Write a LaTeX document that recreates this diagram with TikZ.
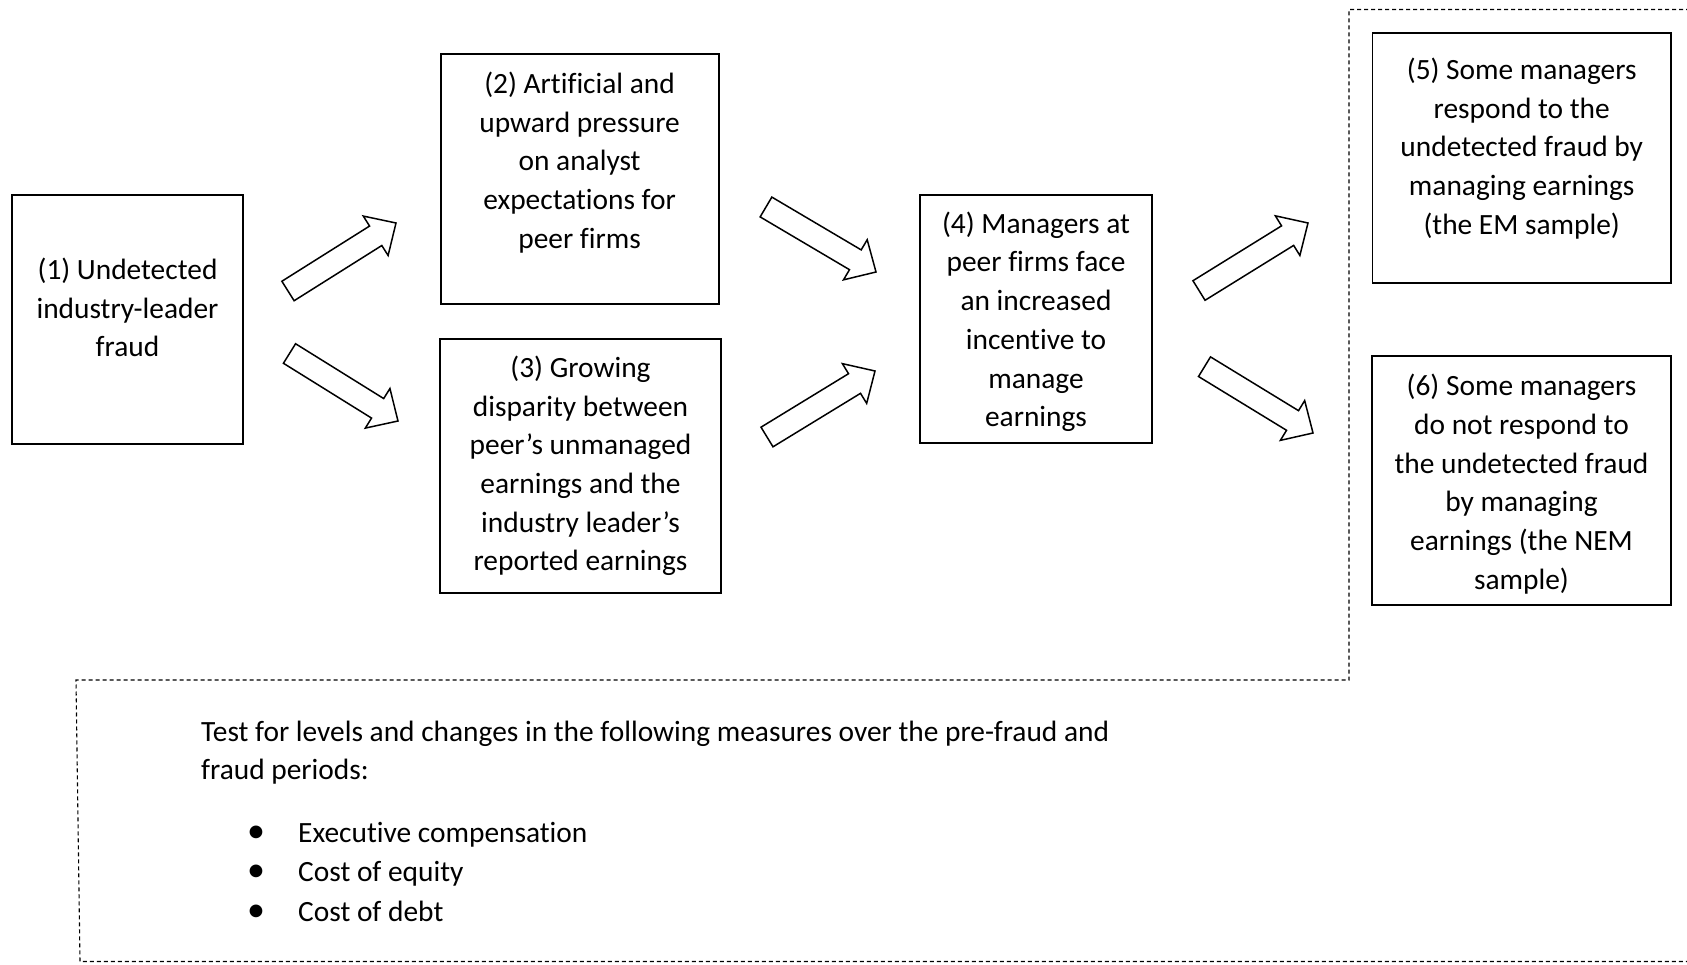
\documentclass[tikz,border=0pt]{standalone}
\usepackage{fontspec}
\setmainfont{Carlito}[Ligatures=NoCommon]
\usetikzlibrary{calc}
\newcommand\blockarrow[2]{%
  \coordinate (hb) at ($(#2)!24pt!(#1)$);
  \draw[blk] ($(#1)!11.5pt!90:(#2)$) -- ($(hb)!11.5pt!90:(#2)$) -- ($(hb)!23.3pt!90:(#2)$)
    -- (#2) -- ($(hb)!23.3pt!-90:(#2)$) -- ($(hb)!11.5pt!-90:(#2)$)
    -- ($(#1)!11.5pt!-90:(#2)$) -- cycle;}
\newcommand\bul{\makebox[24pt][c]{\fontsize{36}{36}\selectfont •}\hspace{30pt}}
\begin{document}
\begin{tikzpicture}[x=1pt,y=-1pt,
  box/.style={draw=black, line width=1.8pt, inner sep=0pt},
  txt/.style={inner sep=0pt, font=\fontsize{29.4}{38.7}\selectfont},
  blk/.style={draw=black, line width=1.5pt, fill=white, line join=miter},
  region/.style={draw=black, line width=1.1pt, dash pattern=on 4pt off 3pt}]
\useasboundingbox (0,0) rectangle (1687,965);
% dashed region
\coordinate (r1) at (1349,9.5);
\coordinate (r2) at (1690,9.5);
\coordinate (r3) at (1349,680);
\coordinate (r4) at (76,680);
\coordinate (r5) at (80,961.5);
\coordinate (r6) at (1690,961.5);
\draw[region] (r2) -- (r1) -- (r3) -- (r4) -- (r5) -- (r6);
% boxes
\node[box, minimum width=231pt, minimum height=249pt] (b1) at (127.5,319.5) {};
\node[box, minimum width=278pt, minimum height=250pt] (b2) at (579.6,179) {};
\node[box, minimum width=281pt, minimum height=254pt] (b3) at (580.5,466) {};
\node[box, minimum width=232pt, minimum height=248pt] (b4) at (1036,319) {};
\node[box, minimum width=298.5pt, minimum height=250pt] (b5) at (1521.7,158) {};
\node[box, minimum width=299pt, minimum height=249.6pt] (b6) at (1521.5,480.5) {};
% texts
\node[txt, anchor=base] (t1) at (127.5,279.6) {\parbox[t]{300pt}{\centering (1) Undetected\\industry-leader\\fraud}};
\node[txt, anchor=base] (t2) at (579.6,93.4) {\parbox[t]{300pt}{\centering (2) Artificial and\\upward pressure\\on analyst\\expectations for\\peer firms}};
\node[txt, anchor=base] (t3) at (580.5,377.5) {\parbox[t]{300pt}{\centering (3) Growing\\disparity between\\peer’s unmanaged\\earnings and the\\industry leader’s\\reported earnings}};
\node[txt, anchor=base] (t4) at (1036,233.3) {\parbox[t]{300pt}{\centering (4) Managers at\\peer firms face\\an increased\\incentive to\\manage\\earnings}};
\node[txt, anchor=base] (t5) at (1521.7,79.4) {\parbox[t]{320pt}{\centering (5) Some managers\\respond to the\\undetected fraud by\\managing earnings\\(the EM sample)}};
\node[txt, anchor=base] (t6) at (1521.5,395.8) {\parbox[t]{320pt}{\centering (6) Some managers\\do not respond to\\the undetected fraud\\by managing\\earnings (the NEM\\sample)}};
% arrows
\coordinate (a1s) at (288,291);    \coordinate (a1e) at (396,223);
\coordinate (a2s) at (289.5,353.5); \coordinate (a2e) at (398,421);
\coordinate (a3s) at (766,207);    \coordinate (a3e) at (876,272);
\coordinate (a4s) at (767,437);    \coordinate (a4e) at (875,371);
\coordinate (a5s) at (1199,290.5); \coordinate (a5e) at (1308,223);
\coordinate (a6s) at (1204.5,366.7); \coordinate (a6e) at (1313,433);
\blockarrow{a1s}{a1e}
\blockarrow{a2s}{a2e}
\blockarrow{a3s}{a3e}
\blockarrow{a4s}{a4e}
\blockarrow{a5s}{a5e}
\blockarrow{a6s}{a6e}
% bottom text
\node[txt, anchor=base west] (p) at (201,741) {\parbox[t]{1100pt}{\raggedright Test for levels and changes in the following measures over the pre-fraud and\\fraud periods:}};
\node[txt, anchor=base west] (l) at (244,842) {\parbox[t]{800pt}{\fontsize{29.4}{39.8}\selectfont\raggedright \bul Executive compensation\\\bul Cost of equity\\\bul Cost of debt}};
\end{tikzpicture}
\end{document}
